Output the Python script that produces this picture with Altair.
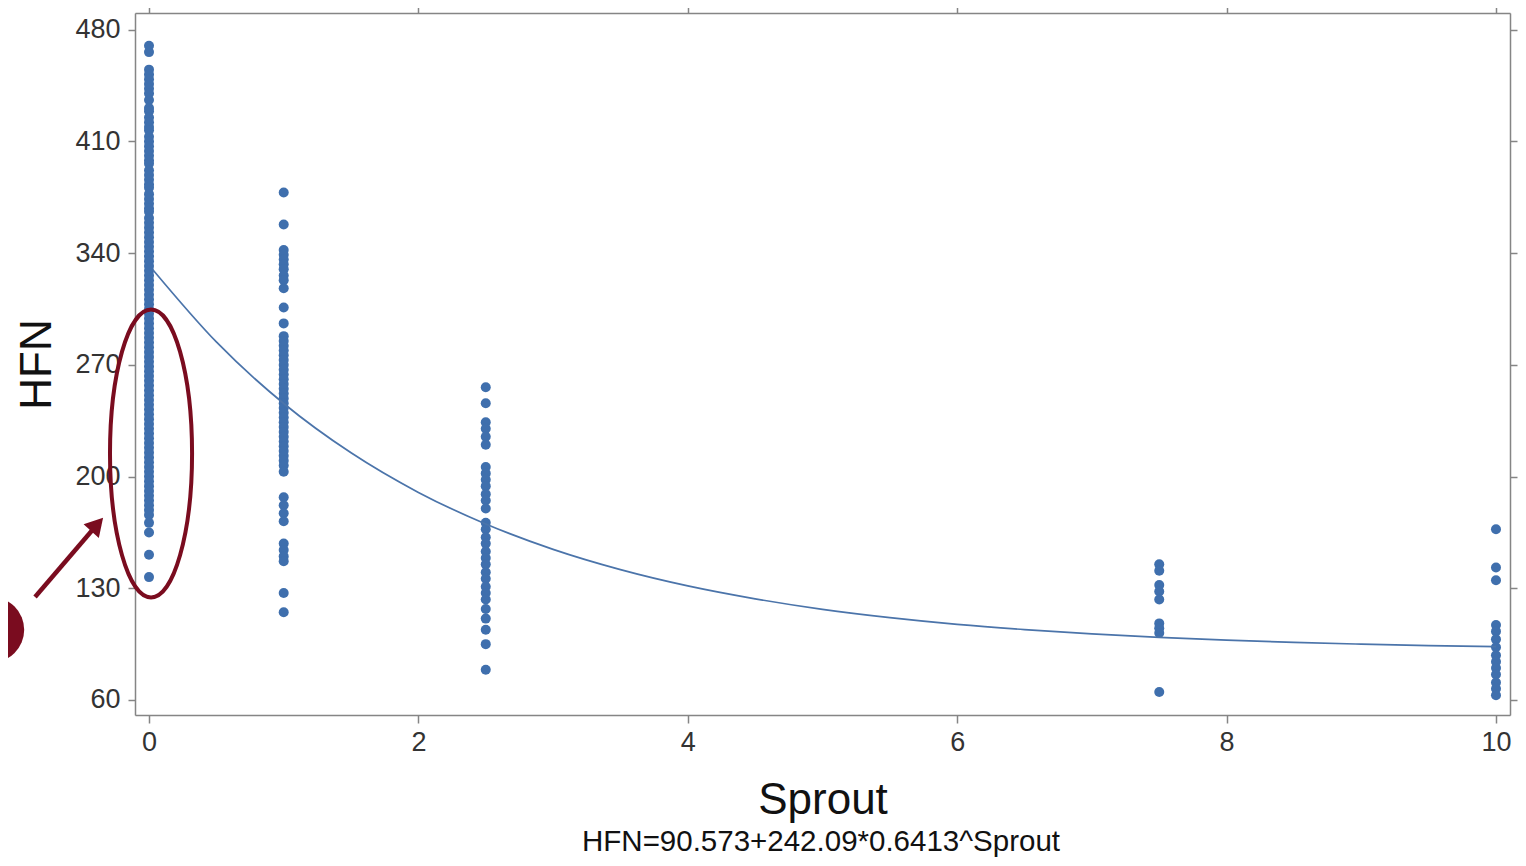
import altair as alt
import pandas as pd

# ---- data ----
hfn_s0 = [470, 466, 455, 452, 449, 446, 443, 440, 436, 431, 429, 425, 422, 419, 417, 413,
          410, 407, 404, 401, 398, 396, 392, 389, 386, 383, 381, 377, 374, 371, 368, 366,
          362, 359, 356, 353, 350, 347, 344, 341, 338, 335, 332, 329, 326, 323, 320, 317,
          314, 311, 308, 305, 302, 299, 296, 293, 290, 287, 284, 281, 278, 275, 272, 269,
          266, 263, 260, 257, 254, 251, 248, 245, 242, 239, 236, 233, 230, 227, 224, 221,
          218, 215, 212, 209, 206, 203, 200, 197, 194, 191, 188, 185, 182, 179, 176, 171,
          165, 151, 137]
hfn_s1 = [378, 358, 342, 339, 336, 333, 330, 326, 323, 318, 306, 296, 288, 285, 282, 279,
          276, 273, 270, 267, 264, 261, 258, 255, 252, 249, 246, 243, 240, 237, 234, 231,
          228, 225, 222, 219, 216, 213, 210, 207, 203, 187, 182, 177, 172, 158, 154, 150,
          147, 127, 115]
hfn_s25 = [256, 246, 234, 230, 225, 220, 206, 202, 198, 194, 189, 185, 180, 171, 167, 162,
           158, 153, 149, 145, 140, 136, 131, 127, 123, 117, 111, 104, 95, 79]
hfn_s75 = [145, 141, 132, 128, 123, 108, 105, 102, 65]
hfn_s10 = [167, 143, 135, 107, 103, 98, 93, 88, 84, 80, 76, 71, 67, 63]

sprout_levels = [0, 1, 2.5, 7.5, 10]
groups = [hfn_s0, hfn_s1, hfn_s25, hfn_s75, hfn_s10]

# fitted curve
curve_x = [0.03, 0.5, 1, 1.5, 2, 2.5, 3, 3.5, 4, 4.5, 5, 5.5, 6, 6.5, 7, 7.5, 8, 8.5, 9, 9.5, 10]
curve_y = [329.5, 284.4, 245.8, 214.9, 190.1, 170.3, 154.4, 141.7, 131.5, 123.4, 116.8, 111.6,
           107.4, 104.1, 101.4, 99.2, 97.5, 96.1, 95.0, 94.1, 93.4]

x_ticks = [0, 2, 4, 6, 8, 10]
y_ticks = [60, 130, 200, 270, 340, 410, 480]
equation = "HFN=90.573+242.09*0.6413^Sprout"

# annotation anchors (data units)
ellipse_pt = {"x": [0.015], "y": [214.5]}
arrow_line = {"x": [-0.846], "y": [124.5], "x2": [-0.42], "y2": [166.5]}
arrow_head = {"x": [-0.385], "y": [170.0]}
blob_pt = {"x": [-1.17], "y": [104.0]}

# ---- build tables ----
pts = pd.DataFrame(
    [{"Sprout": s, "HFN": v} for s, g in zip(sprout_levels, groups) for v in g]
)
curve = pd.DataFrame({"Sprout": curve_x, "HFN": curve_y})

XDOM = [-0.104, 10.104]
YDOM = [50.6, 490.5]
xs = alt.Scale(domain=XDOM, nice=False, zero=False)
ys = alt.Scale(domain=YDOM, nice=False, zero=False)

GRAY = "#858585"
BLUE = "#3f6fad"
RED = "#7a0c1f"
FONT = "Liberation Sans"

x_axis = alt.Axis(values=x_ticks, title="Sprout", grid=False, tickSize=8, labelFontSize=27,
                  labelColor="#333333", labelPadding=6, titleFontSize=44, titleColor="#111111",
                  titleFontWeight="normal", titleBaseline="alphabetic", titleY=98,
                  domainColor=GRAY, tickColor=GRAY, domainWidth=1.5, tickWidth=1.5,
                  labelFont=FONT, titleFont=FONT)
y_axis = alt.Axis(values=y_ticks, title="HFN", grid=False, tickSize=7, labelFontSize=27,
                  labelColor="#333333", labelPadding=8, titleFontSize=44, titleColor="#111111",
                  titleFontWeight="normal", titleBaseline="alphabetic", titleX=-85,
                  domainColor=GRAY, tickColor=GRAY, domainWidth=1.5, tickWidth=1.5,
                  labelFont=FONT, titleFont=FONT)
x_top = alt.Axis(values=x_ticks, orient="top", labels=False, title=None, grid=False, tickSize=8,
                 domainColor=GRAY, tickColor=GRAY, domainWidth=1.5, tickWidth=1.5)
y_right = alt.Axis(values=y_ticks, orient="right", labels=False, title=None, grid=False, tickSize=7,
                   domainColor=GRAY, tickColor=GRAY, domainWidth=1.5, tickWidth=1.5)

points = alt.Chart(pts).mark_circle(size=100, color=BLUE, opacity=1).encode(
    x=alt.X("Sprout:Q", scale=xs, axis=x_axis),
    y=alt.Y("HFN:Q", scale=ys, axis=y_axis),
)

line = alt.Chart(curve).mark_line(color="#4b74aa", strokeWidth=1.7, interpolate="monotone").encode(
    x=alt.X("Sprout:Q", scale=xs, axis=x_top),
    y=alt.Y("HFN:Q", scale=ys, axis=y_right),
)

ellipse_path = "M -0.285 0 A 0.285 1 0 1 0 0.285 0 A 0.285 1 0 1 0 -0.285 0 Z"
ellipse = alt.Chart(pd.DataFrame(ellipse_pt)).mark_point(
    shape=ellipse_path, size=82944, filled=False, stroke=RED, strokeWidth=4, opacity=1
).encode(x=alt.X("x:Q", scale=xs, axis=None), y=alt.Y("y:Q", scale=ys, axis=None))

arrow = alt.Chart(pd.DataFrame(arrow_line)).mark_rule(color=RED, strokeWidth=4.5).encode(
    x=alt.X("x:Q", scale=xs, axis=None), y=alt.Y("y:Q", scale=ys, axis=None),
    x2="x2:Q", y2="y2:Q",
)
head = alt.Chart(pd.DataFrame(arrow_head)).mark_point(
    shape="triangle-up", size=420, filled=True, color=RED, opacity=1, angle=42
).encode(x=alt.X("x:Q", scale=xs, axis=None), y=alt.Y("y:Q", scale=ys, axis=None))

blob = alt.Chart(pd.DataFrame(blob_pt)).mark_circle(size=4300, color=RED, opacity=1).encode(
    x=alt.X("x:Q", scale=xs, axis=None), y=alt.Y("y:Q", scale=ys, axis=None)
)

eq = alt.Chart(pd.DataFrame({"t": [equation]})).mark_text(
    fontSize=29.5, font=FONT, color="#111111", baseline="alphabetic", align="center"
).encode(text="t:N", x=alt.value(686), y=alt.value(838))

chart = alt.layer(points, line, ellipse, arrow, head, blob, eq).resolve_axis(
    x="independent", y="independent"
).properties(
    width=1375, height=702,
    autosize=alt.AutoSizeParams(type="none"),
    padding={"left": 127, "top": 5, "right": 8, "bottom": 143},
    background="white",
).configure_view(stroke=GRAY, strokeWidth=1.5).configure(font=FONT)

chart.save("out.html", embed_options={"renderer": "svg", "actions": False})
